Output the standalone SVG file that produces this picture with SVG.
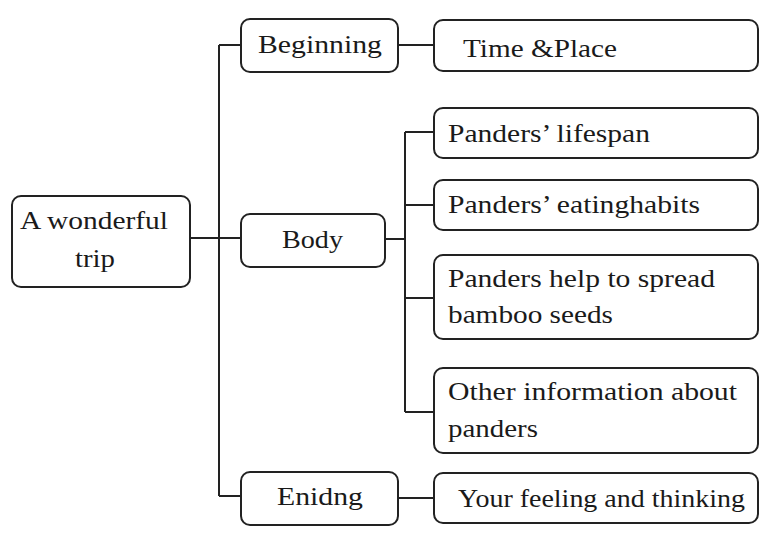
<svg xmlns="http://www.w3.org/2000/svg" width="765" height="540" viewBox="0 0 765 540">
<style>
.box{fill:#fff;stroke:#222;stroke-width:2}
.ln{fill:none;stroke:#222;stroke-width:2}
.t{font-family:'Liberation Serif',serif;font-size:26px;fill:#1a1a1a}
</style>
<rect width="765" height="540" fill="#fff"/>
<g id="connectors">
<path class="ln" d="M190,238 H241 M219,45 V496 M219,45 H241 M219,496 H241"/>
<path class="ln" d="M398,45 H434"/>
<path class="ln" d="M385,239 H405 M405,132 V412 M405,132 H434 M405,205 H434 M405,298 H434 M405,412 H434"/>
<path class="ln" d="M398,498 H434"/>
</g>
<g id="root"><rect class="box" x="12" y="196" width="178" height="91" rx="9"/>
<text class="t" x="20" y="229" textLength="148" lengthAdjust="spacingAndGlyphs">A wonderful</text>
<text class="t" x="75" y="267" textLength="40" lengthAdjust="spacingAndGlyphs">trip</text></g>
<g id="beginning"><rect class="box" x="241" y="19" width="157" height="53" rx="9"/>
<text class="t" x="258" y="53" textLength="124" lengthAdjust="spacingAndGlyphs">Beginning</text></g>
<g id="body"><rect class="box" x="241" y="214" width="144" height="53" rx="9"/>
<text class="t" x="282" y="248" textLength="61" lengthAdjust="spacingAndGlyphs">Body</text></g>
<g id="ending"><rect class="box" x="241" y="472" width="157" height="53" rx="9"/>
<text class="t" x="277" y="505" textLength="86" lengthAdjust="spacingAndGlyphs">Enidng</text></g>
<g id="time"><rect class="box" x="434" y="20" width="324" height="51" rx="9"/>
<text class="t" x="463" y="57" textLength="154" lengthAdjust="spacingAndGlyphs">Time &amp;Place</text></g>
<g id="lifespan"><rect class="box" x="434" y="108" width="324" height="50" rx="9"/>
<text class="t" x="448" y="142" textLength="202" lengthAdjust="spacingAndGlyphs">Panders’ lifespan</text></g>
<g id="eating"><rect class="box" x="434" y="180" width="324" height="50" rx="9"/>
<text class="t" x="448" y="213" textLength="252" lengthAdjust="spacingAndGlyphs">Panders’ eatinghabits</text></g>
<g id="spread"><rect class="box" x="434" y="255" width="324" height="84" rx="9"/>
<text class="t" x="448" y="287" textLength="267" lengthAdjust="spacingAndGlyphs">Panders help to spread</text>
<text class="t" x="448" y="323" textLength="165" lengthAdjust="spacingAndGlyphs">bamboo seeds</text></g>
<g id="other"><rect class="box" x="434" y="368" width="324" height="85" rx="9"/>
<text class="t" x="448" y="400" textLength="289" lengthAdjust="spacingAndGlyphs">Other information about</text>
<text class="t" x="448" y="437" textLength="90" lengthAdjust="spacingAndGlyphs">panders</text></g>
<g id="feeling"><rect class="box" x="434" y="473" width="324" height="50" rx="9"/>
<text class="t" x="458" y="507" textLength="287" lengthAdjust="spacingAndGlyphs">Your feeling and thinking</text></g>
</svg>
